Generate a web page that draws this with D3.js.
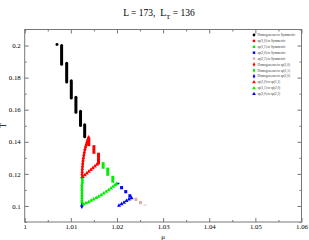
<!DOCTYPE html>
<html>
<head>
<meta charset="utf-8">
<script src="https://cdn.jsdelivr.net/npm/d3@7"></script>
<style>
  body { margin: 0; background: #fff; }
  svg { display: block; font-family: "Liberation Serif", "DejaVu Serif", serif; }
</style>
</head>
<body>
<div id="chart"></div>
<script>
/**
 * DATA
 * */
const legendLabels = [
  "Homogeneous to Symmetric",
  "sp(1,0) to Symmetric",
  "sp(1,1) to Symmetric",
  "sp(2,0) to Symmetric",
  "sp(2,1) to Symmetric",
  "Homogeneous to sp(1,0)",
  "Homogeneous to sp(1,1)",
  "Homogeneous to sp(2,0)",
  "sp(1,0) to sp(1,1)",
  "sp(1,1) to sp(2,0)",
  "sp(2,0) to sp(2,1)"
];
const legendColors = ["#000000", "#ff0000", "#00ee00", "#0000ff", "#d8b0b0",
  "#ff0000", "#00ee00", "#0000ff", "#ff0000", "#00ee00", "#0000ff"];
const legendShapes = ["circle", "square", "square", "square", "square",
  "diamond", "diamond", "diamond", "triangle", "triangle", "triangle"];

// vertical runs of stacked points: [mu, T top, T bottom]
const homSymDot = [[1.0070, 0.2006]];
const homSymRuns = [
  [1.0080, 0.2000, 0.1884],
  [1.0091, 0.1890, 0.1773],
  [1.0101, 0.1781, 0.1673],
  [1.0111, 0.1678, 0.1584],
  [1.0121, 0.1591, 0.1501],
  [1.0130, 0.1507, 0.1431]
];
const sp10SymRuns = [
  [1.0139, 0.1425, 0.1373],
  [1.0150, 0.1379, 0.1325],
  [1.0160, 0.1332, 0.1259]
];
const sp11SymRuns = [
  [1.0170, 0.1273, 0.1232],
  [1.0180, 0.1239, 0.1188],
  [1.0191, 0.1188, 0.1145]
];
const sp20SymRuns = [
  [1.0202, 0.1145, 0.1135],
  [1.0210, 0.1124, 0.1104],
  [1.0219, 0.1099, 0.1079],
  [1.0228, 0.1073, 0.1052]
];
const sp21SymRuns = [
  [1.0241, 0.1052, 0.1031],
  [1.0251, 0.1031, 0.1011],
  [1.0261, 0.1008, 0.1003]
];

// point series: [mu, T]
const homSp10 = [
  [1.01386, 0.14248], [1.01368, 0.14112], [1.01351, 0.13975], [1.01336, 0.13832],
  [1.01320, 0.13677], [1.01305, 0.13509], [1.01292, 0.13317], [1.01281, 0.13149],
  [1.01272, 0.12975], [1.01264, 0.12795], [1.01257, 0.12621], [1.01253, 0.12447],
  [1.01248, 0.12280], [1.01246, 0.12106], [1.01244, 0.11938], [1.01242, 0.11764]
];
const homSp11 = [
  [1.0125, 0.1176], [1.0125, 0.1160], [1.0125, 0.1144], [1.0124, 0.1128],
  [1.0124, 0.1112], [1.0124, 0.1096], [1.0124, 0.1080], [1.0124, 0.1064],
  [1.0124, 0.1048], [1.0124, 0.1032], [1.0124, 0.1020]
];
const homSp20 = [[1.0124, 0.1000]];
const sp10Sp11 = [
  [1.01259, 0.11814], [1.01303, 0.11919], [1.01346, 0.12031], [1.01390, 0.12137],
  [1.01434, 0.12248], [1.01477, 0.12360], [1.01521, 0.12466], [1.01564, 0.12578],
  [1.01597, 0.12665]
];
const sp11Sp20 = [
  [1.01277, 0.10106], [1.01330, 0.10175], [1.01386, 0.10248], [1.01440, 0.10330],
  [1.01495, 0.10416], [1.01550, 0.10500], [1.01603, 0.10584], [1.01657, 0.10685],
  [1.01712, 0.10789], [1.01766, 0.10890], [1.01821, 0.10994], [1.01870, 0.11100],
  [1.01917, 0.11205], [1.01960, 0.11300], [1.01989, 0.11379]
];
const sp20Sp21 = [
  [1.02044, 0.10025], [1.02098, 0.10118], [1.02153, 0.10217],
  [1.02207, 0.10317], [1.02261, 0.10410], [1.02316, 0.10484]
];

const xMajor = [1, 1.01, 1.02, 1.03, 1.04, 1.05, 1.06];
const xMinor = [1.005, 1.015, 1.025, 1.035, 1.045, 1.055];
const yMajor = [0.1, 0.12, 0.14, 0.16, 0.18, 0.2];
const yMinor = [0.09, 0.11, 0.13, 0.15, 0.17, 0.19, 0.21];

/**
 * LAYOUT
 * */
const width = 309, height = 240;
const margin = { top: 29.5, right: 7.5, bottom: 18, left: 24.7 };

const svg = d3.select("#chart").append("svg")
  .attr("width", width).attr("height", height);

const x = d3.scaleLinear().domain([1, 1.06]).range([margin.left, width - margin.right]);
const y = d3.scaleLinear().domain([0.09, 0.21]).range([height - margin.bottom, margin.top]);

const axisColor = "#777";

// title
const title = svg.append("text")
  .attr("x", 159).attr("y", 16)
  .attr("text-anchor", "middle")
  .attr("font-size", 9.5)
  .attr("fill", "#000");
title.append("tspan").text("L = 173,\u00a0\u00a0L");
title.append("tspan").attr("font-size", 7).attr("dy", 2.5).text("T");
title.append("tspan").attr("dy", -2.5).text(" = 136");

// axes (ticks inward on all four sides)
function styleAxis(g) {
  g.select(".domain").remove();
  g.selectAll(".tick line").attr("stroke", axisColor);
  g.selectAll(".tick text").attr("fill", "#000").attr("font-family", "Liberation Serif, serif");
}

const yb = height - margin.bottom, yt = margin.top;
const xl = margin.left, xr = width - margin.right;

svg.append("g").attr("transform", `translate(0,${yb})`)
  .call(d3.axisBottom(x).tickValues(xMajor).tickSize(-4).tickPadding(2.5).tickFormat(d3.format("")))
  .attr("font-size", 6.8).call(styleAxis);
svg.append("g").attr("transform", `translate(0,${yb})`)
  .call(d3.axisBottom(x).tickValues(xMinor).tickSize(-2).tickFormat(""))
  .call(styleAxis);
svg.append("g").attr("transform", `translate(0,${yt})`)
  .call(d3.axisTop(x).tickValues(xMajor).tickSize(-4).tickFormat(""))
  .call(styleAxis);
svg.append("g").attr("transform", `translate(0,${yt})`)
  .call(d3.axisTop(x).tickValues(xMinor).tickSize(-2).tickFormat(""))
  .call(styleAxis);

svg.append("g").attr("transform", `translate(${xl},0)`)
  .call(d3.axisLeft(y).tickValues(yMajor).tickSize(-4).tickPadding(4).tickFormat(d3.format("")))
  .attr("font-size", 6.8).call(styleAxis);
svg.append("g").attr("transform", `translate(${xl},0)`)
  .call(d3.axisLeft(y).tickValues(yMinor).tickSize(-2).tickFormat(""))
  .call(styleAxis);
svg.append("g").attr("transform", `translate(${xr},0)`)
  .call(d3.axisRight(y).tickValues(yMajor).tickSize(-4).tickFormat(""))
  .call(styleAxis);
svg.append("g").attr("transform", `translate(${xr},0)`)
  .call(d3.axisRight(y).tickValues(yMinor).tickSize(-2).tickFormat(""))
  .call(styleAxis);

// frame
svg.append("rect")
  .attr("x", xl).attr("y", yt)
  .attr("width", xr - xl).attr("height", yb - yt)
  .attr("fill", "none").attr("stroke", axisColor).attr("stroke-width", 1);

// axis labels
svg.append("text").attr("x", (xl + xr) / 2).attr("y", 238.5)
  .attr("text-anchor", "middle").attr("font-size", 7).text("μ");
svg.append("text")
  .attr("transform", `translate(6,${(yt + yb) / 2}) rotate(-90)`)
  .attr("text-anchor", "middle").attr("font-size", 7.5).text("T");

// marks
const plot = svg.append("g");

function drawRuns(runs, color, cap) {
  plot.selectAll(null).data(runs).join("line")
    .attr("x1", d => x(d[0])).attr("x2", d => x(d[0]))
    .attr("y1", d => y(d[1])).attr("y2", d => y(d[2]))
    .attr("stroke", color).attr("stroke-width", 3)
    .attr("stroke-linecap", cap);
}

const symbolType = {
  circle: d3.symbolCircle,
  square: d3.symbolSquare,
  diamond: d3.symbolDiamond,
  triangle: d3.symbolTriangle
};

function drawPoints(points, color, shape, size) {
  plot.selectAll(null).data(points).join("path")
    .attr("transform", d => `translate(${x(d[0])},${y(d[1])})`)
    .attr("d", d3.symbol().type(symbolType[shape]).size(size))
    .attr("fill", color);
}

drawPoints(homSymDot, legendColors[0], "circle", 7);
drawRuns(homSymRuns, legendColors[0], "round");
drawRuns(sp10SymRuns, legendColors[1], "butt");
drawRuns(sp11SymRuns, legendColors[2], "butt");
drawRuns(sp20SymRuns, legendColors[3], "butt");
drawRuns(sp21SymRuns, legendColors[4], "butt");

drawPoints(homSp10, legendColors[5], "diamond", 9);
drawPoints(homSp11, legendColors[6], "diamond", 9);
drawPoints(homSp20, legendColors[7], "diamond", 10);
drawPoints(sp10Sp11, legendColors[8], "triangle", 7);
drawPoints(sp11Sp20, legendColors[9], "triangle", 7);
drawPoints(sp20Sp21, legendColors[10], "triangle", 7);

// legend
const legend = svg.append("g").attr("transform", "translate(254,35)");
const item = legend.selectAll("g").data(legendLabels).join("g")
  .attr("transform", (d, i) => `translate(0,${i * 5.9})`);
item.append("path")
  .attr("d", (d, i) => d3.symbol().type(symbolType[legendShapes[i]]).size(6)())
  .attr("fill", (d, i) => legendColors[i]);
item.append("text")
  .attr("x", 3.5).attr("y", 1.1)
  .attr("font-size", 3.3)
  .attr("fill", "#333")
  .text(d => d);
</script>
</body>
</html>
